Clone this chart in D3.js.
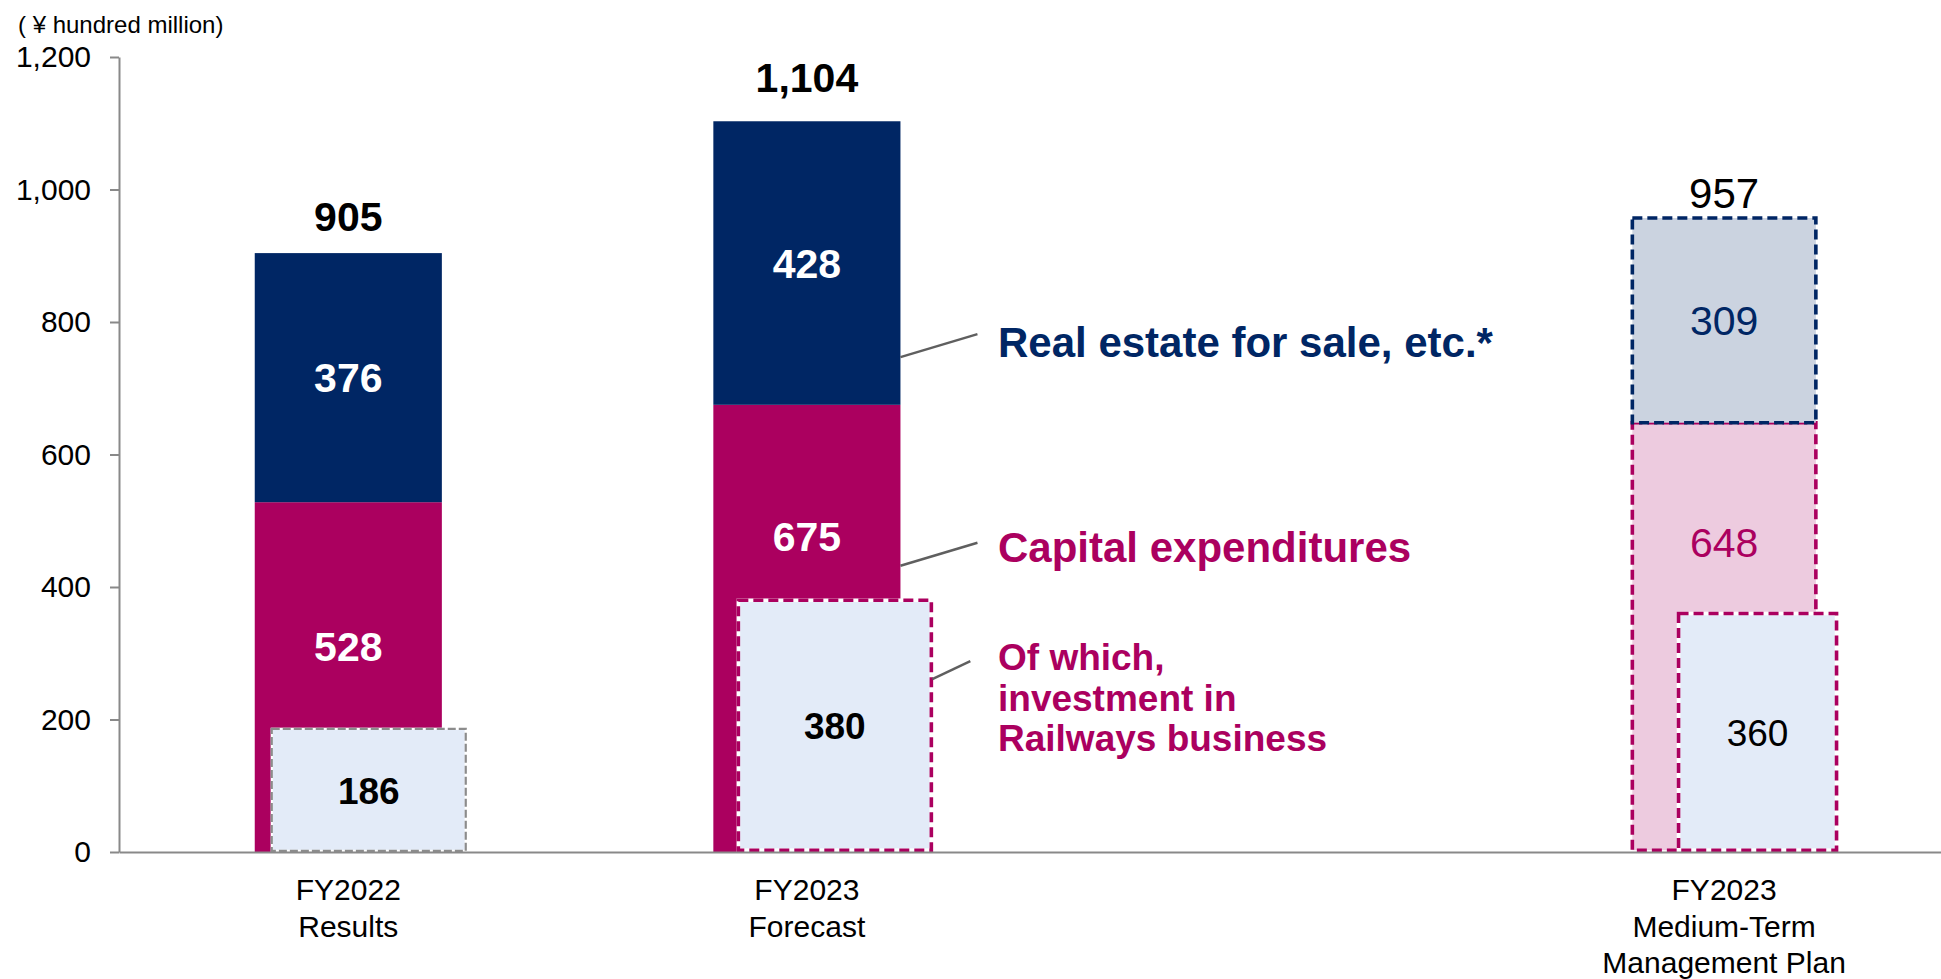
<!DOCTYPE html>
<html>
<head>
<meta charset="utf-8">
<script src="https://cdn.jsdelivr.net/npm/d3@7"></script>
<style>
  html, body { margin: 0; padding: 0; background: #fff; }
  svg { display: block; font-family: "Liberation Sans", Arial, sans-serif; }
</style>
</head>
<body>
<svg id="chart" width="1941" height="979"></svg>
<script>
// ---- data (¥ hundred million) ----
const categories = [["FY2022", "Results"], ["FY2023", "Forecast"], ["FY2023", "Medium-Term", "Management Plan"]];
const capex      = [528, 675, 648];   // Capital expenditures
const realEstate = [376, 428, 309];   // Real estate for sale, etc.*
const railways   = [186, 380, 360];   // Of which, investment in Railways business
const totals     = [905, 1104, 957];
const yTicks     = [0, 200, 400, 600, 800, 1000, 1200];
const unitLabel  = "( ¥ hundred million)";
const seriesNames = ["Real estate for sale, etc.*", "Capital expenditures", ["Of which,", "investment in", "Railways business"]];

// ---- layout ----
const W = 1941, H = 979;
const slots = ["s0", "s1", "s2", "s3"];          // third slot is left empty
const slotOf = [0, 1, 3];
const isPlan = [false, false, true];
const boxShift = [17, 25, 48];                  // railway box offset from bar's left edge
const boxWidth = [194, 193, 158];
const boxStroke = ["#8c8c8c", "#ab005f", "#ab005f"];
const boxStrokeW = [2.2, 3.6, 3.6];
const totalGap = [21, 29, 10];
const capexLabelAt = [311, 477, 468];           // vertical anchor (in axis units) of the capex label

const navy = "#002664", magenta = "#ab005f";
const navyLight = "#cbd3e0", magentaLight = "#edcbdf", boxFill = "#e3ebf8";
const axisGray = "#898989", leaderGray = "#5f5f5f";

const svg = d3.select("#chart");

const y = d3.scaleLinear().domain([0, 1200]).range([852, 57]);
const x = d3.scaleBand().domain(slots).range([119, 1953.4]).paddingInner(0.592).paddingOuter(0.296);
const bw = x.bandwidth();
const bx = i => x(slots[slotOf[i]]);

// unit label
svg.append("text").attr("x", 18).attr("y", 33)
  .attr("font-size", 24).attr("fill", "#000").text(unitLabel);

// y axis
const yAxis = svg.append("g").attr("transform", "translate(119,0)")
  .call(d3.axisLeft(y).tickValues(yTicks).tickSize(9).tickSizeOuter(0).tickPadding(19).tickFormat(d3.format(",")));
yAxis.select(".domain").attr("stroke", axisGray).attr("stroke-width", 2);
yAxis.selectAll(".tick line").attr("stroke", axisGray).attr("stroke-width", 2);
yAxis.selectAll(".tick text").attr("font-size", 30).attr("fill", "#000")
  .attr("font-family", "'Liberation Sans', Arial, sans-serif");

const g = svg.append("g");

categories.forEach((cat, i) => {
  const x0 = bx(i);
  const plan = isPlan[i];
  // capital expenditures segment
  g.append("rect")
    .attr("x", x0 + (plan ? 1.8 : 0)).attr("width", bw - (plan ? 3.6 : 0))
    .attr("y", y(capex[i])).attr("height", y(0) - y(capex[i]) - (plan ? 1.8 : 0))
    .attr("fill", plan ? magentaLight : magenta)
    .attr("stroke", plan ? magenta : "none")
    .attr("stroke-width", plan ? 3.6 : 0)
    .attr("stroke-dasharray", plan ? "10,5" : null);
  // real estate segment
  g.append("rect")
    .attr("x", x0 + (plan ? 1.8 : 0)).attr("width", bw - (plan ? 3.6 : 0))
    .attr("y", y(capex[i] + realEstate[i])).attr("height", y(capex[i]) - y(capex[i] + realEstate[i]))
    .attr("fill", plan ? navyLight : navy)
    .attr("stroke", plan ? navy : "none")
    .attr("stroke-width", plan ? 3.6 : 0)
    .attr("stroke-dasharray", plan ? "10,5" : null);

  // railways box: white underlay then dashed outline
  const rx = x0 + boxShift[i], rw = boxWidth[i];
  const sw = boxStrokeW[i];
  const ry = y(railways[i]), rh = y(0) - y(railways[i]) - sw / 2;
  g.append("rect").attr("x", rx).attr("y", ry).attr("width", rw).attr("height", rh)
    .attr("fill", boxFill).attr("stroke", "#fff").attr("stroke-width", sw);
  g.append("rect").attr("x", rx).attr("y", ry).attr("width", rw).attr("height", rh)
    .attr("fill", "none").attr("stroke", boxStroke[i]).attr("stroke-width", sw)
    .attr("stroke-dasharray", i === 0 ? "8,3" : "10,5");

  const cx = x0 + bw / 2;
  const weight = plan ? "normal" : "bold";
  // total
  g.append("text").attr("x", cx).attr("y", y(totals[i]) - totalGap[i])
    .attr("text-anchor", "middle").attr("font-size", plan ? 42 : 41).attr("font-weight", weight)
    .attr("fill", "#000").text(d3.format(",")(totals[i]));
  // real estate value
  g.append("text").attr("x", cx).attr("y", (y(capex[i]) + y(capex[i] + realEstate[i])) / 2)
    .attr("dy", "0.36em").attr("text-anchor", "middle").attr("font-size", 41).attr("font-weight", weight)
    .attr("fill", plan ? navy : "#fff").text(realEstate[i]);
  // capex value
  g.append("text").attr("x", cx).attr("y", y(capexLabelAt[i]))
    .attr("dy", "0.36em").attr("text-anchor", "middle").attr("font-size", 41).attr("font-weight", weight)
    .attr("fill", plan ? magenta : "#fff").text(capex[i]);
  // railways value
  g.append("text").attr("x", rx + rw / 2).attr("y", (ry + y(0)) / 2)
    .attr("dy", "0.36em").attr("text-anchor", "middle").attr("font-size", 37).attr("font-weight", weight)
    .attr("fill", "#000").text(railways[i]);
});

// x axis line and category labels
const xAxis = svg.append("g").attr("transform", `translate(0,${y(0)})`)
  .call(d3.axisBottom(x).tickSize(0).tickSizeOuter(0).tickFormat(""));
xAxis.select(".domain").attr("stroke", axisGray).attr("stroke-width", 2);
categories.forEach((cat, i) => {
  const t = svg.append("text").attr("text-anchor", "middle").attr("font-size", 30).attr("fill", "#000");
  cat.forEach((line, k) => {
    t.append("tspan").attr("x", bx(i) + bw / 2).attr("y", 900 + k * 36.5).text(line);
  });
});

// leader lines and series annotations, attached to the FY2023 Forecast column
const fx = bx(1) + bw;                        // right edge of the forecast bar
const rEdge = bx(1) + boxShift[1] + boxWidth[1]; // right edge of its railway box
const leaders = [
  { x1: fx, y1: y(747), x2: fx + 77, y2: y(747) - 23 },
  { x1: fx, y1: y(432), x2: fx + 77, y2: y(432) - 23 },
  { x1: rEdge + 1, y1: y(261), x2: rEdge + 39, y2: y(261) - 18 }
];
leaders.forEach(l => {
  svg.append("line").attr("x1", l.x1).attr("y1", l.y1).attr("x2", l.x2).attr("y2", l.y2)
    .attr("stroke", leaderGray).attr("stroke-width", 2.5);
});

const ax = 998;
svg.append("text").attr("x", ax).attr("y", 357).attr("font-size", 42).attr("font-weight", "bold")
  .attr("fill", navy).text(seriesNames[0]);
svg.append("text").attr("x", ax).attr("y", 562).attr("font-size", 42).attr("font-weight", "bold")
  .attr("fill", magenta).text(seriesNames[1]);
const rt = svg.append("text").attr("font-size", 37).attr("font-weight", "bold").attr("fill", magenta);
seriesNames[2].forEach((line, k) => {
  rt.append("tspan").attr("x", ax).attr("y", 670 + k * 40.5).text(line);
});
</script>
</body>
</html>
